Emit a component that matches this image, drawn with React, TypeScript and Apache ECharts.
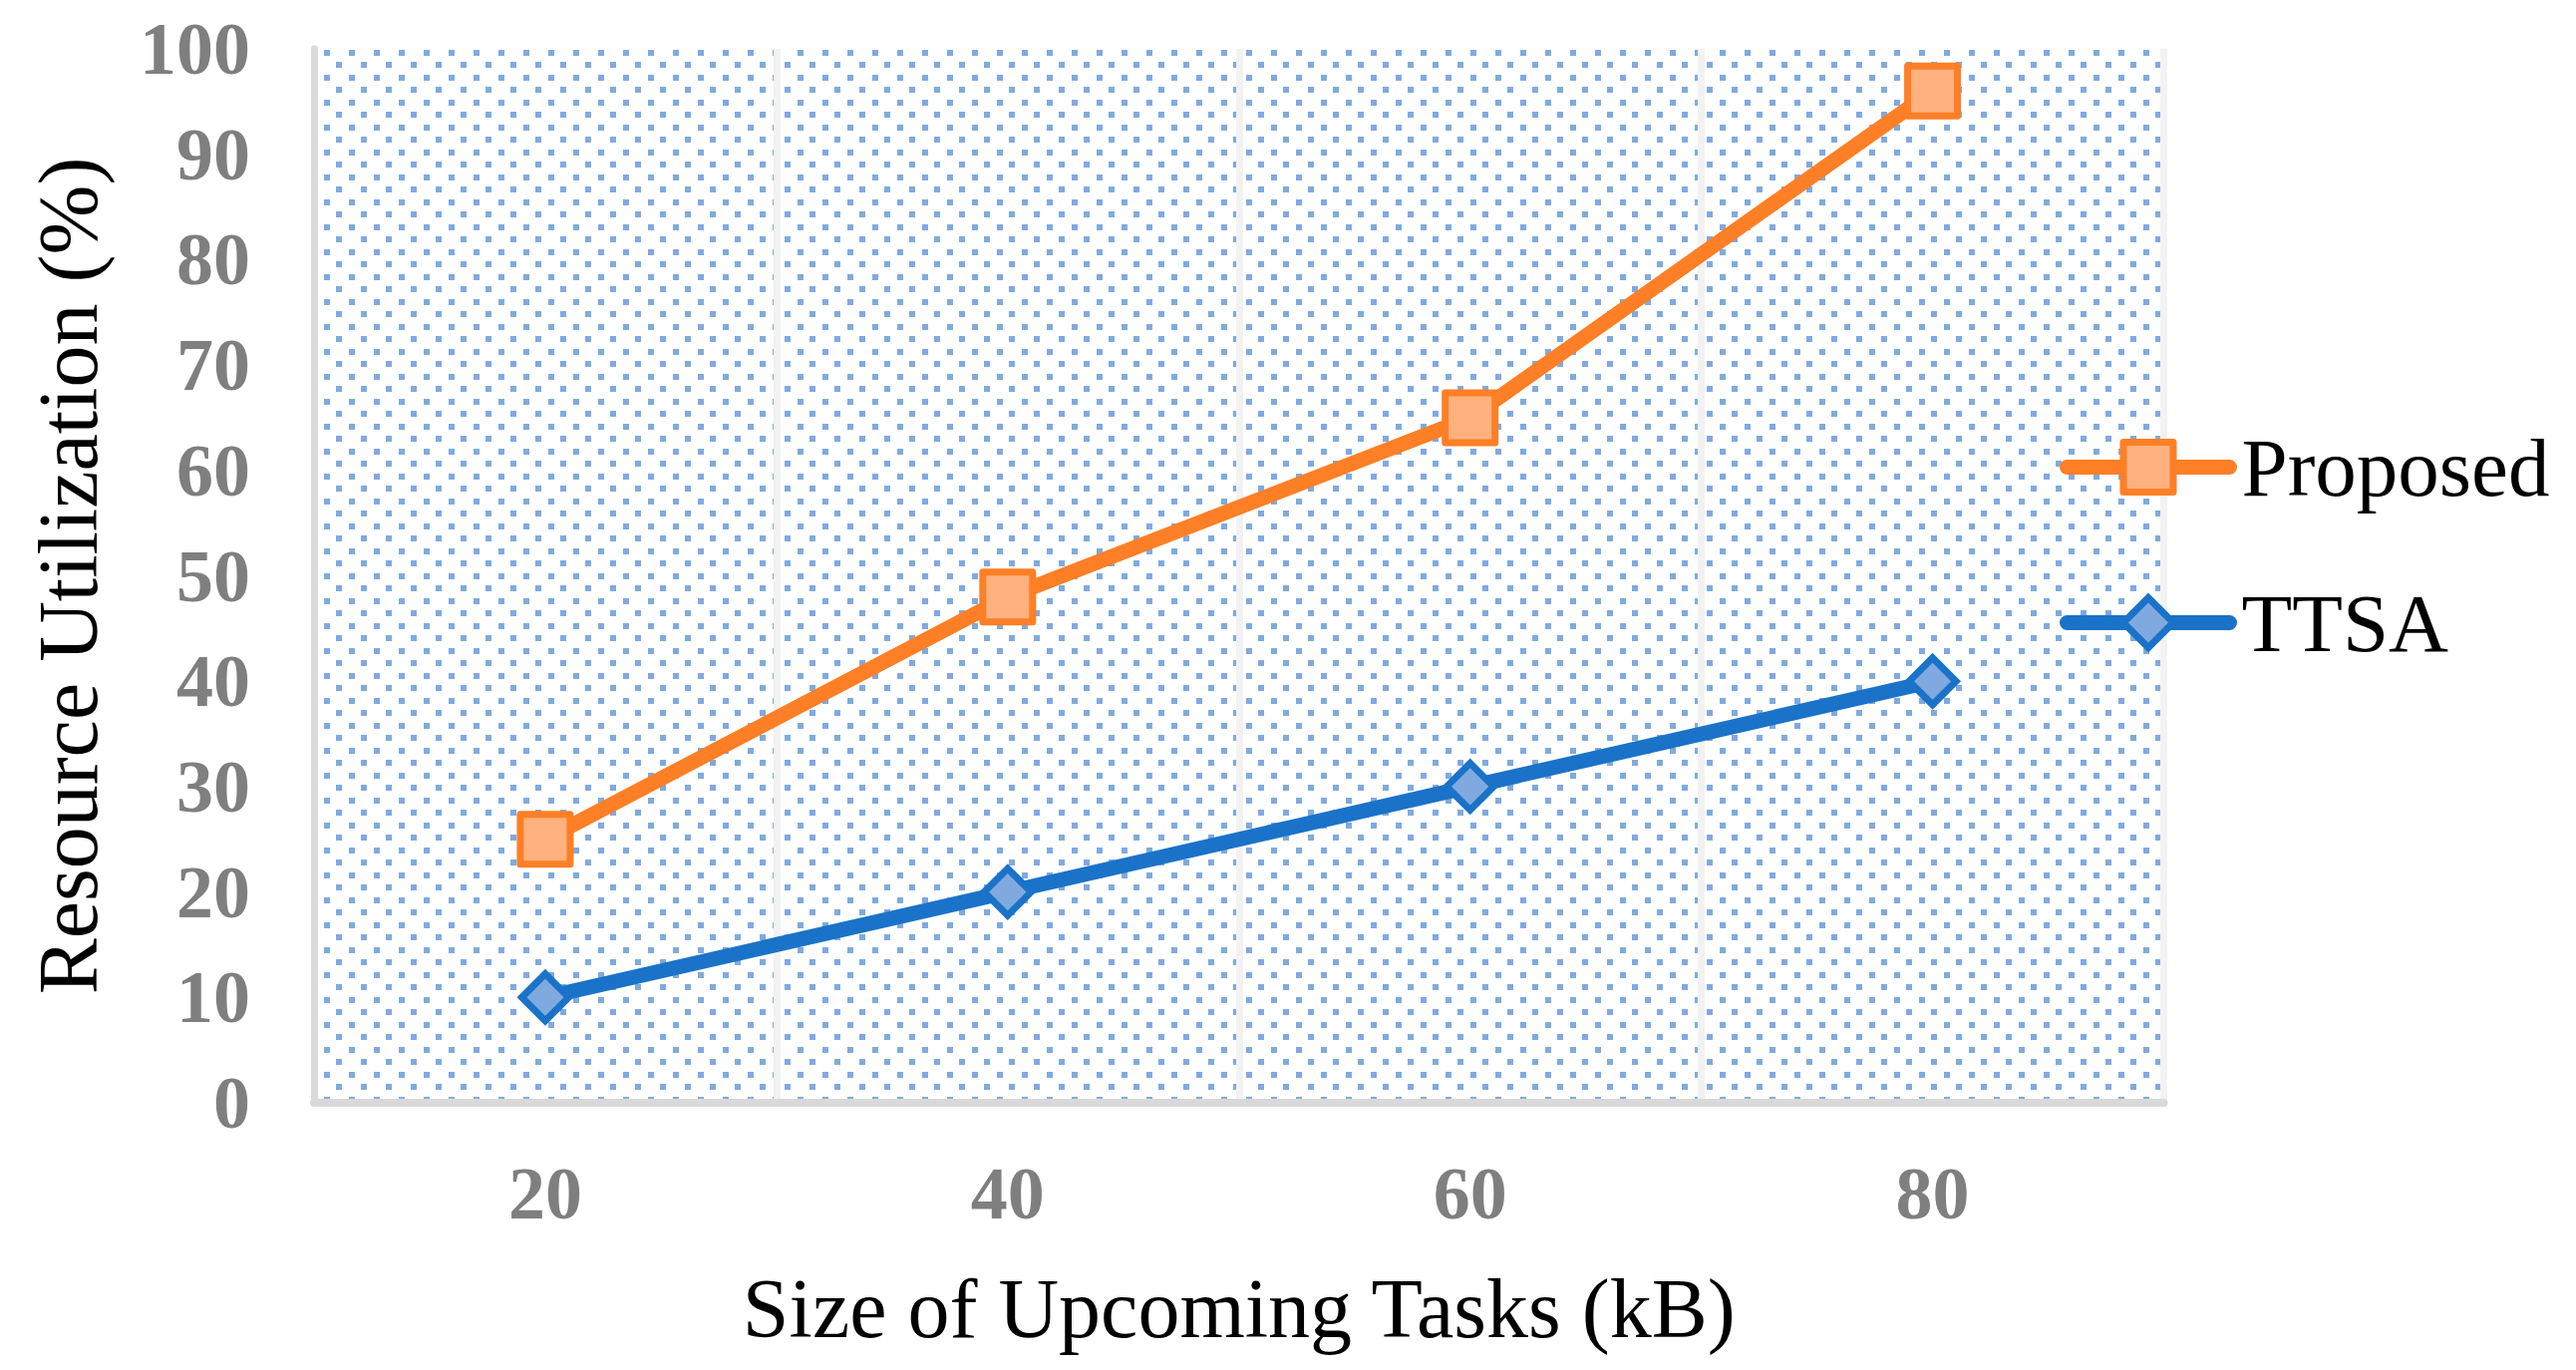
import React, { useEffect, useRef } from "react";
import * as echarts from "echarts";

// ---- data ----
const categories: string[] = ["20", "40", "60", "80"];
const proposedValues: number[] = [25, 48, 65, 96];
const ttsaValues: number[] = [10, 20, 30, 40];
const seriesNames: string[] = ["Proposed", "TTSA"];
const yMin = 0;
const yMax = 100;
const yInterval = 10;

const xTitle = "Size of Upcoming Tasks (kB)";
const yTitle = "Resource Utilization (%)";

const FONT = "'Liberation Serif', 'Times New Roman', serif";

function makeDotPattern(): string {
  const c = document.createElement("canvas");
  c.width = 25;
  c.height = 25;
  const ctx = c.getContext("2d");
  if (ctx) {
    ctx.fillStyle = "#80aadf";
    ctx.fillRect(0, 0, 6, 6);
    ctx.fillRect(12, 12, 6, 6);
  }
  return c.toDataURL();
}

export default function App() {
  const ref = useRef<HTMLDivElement | null>(null);

  useEffect(() => {
    document.body.style.margin = "0";
    if (!ref.current) return;
    const chart = echarts.init(ref.current, null, { renderer: "svg" });

    const pattern: any = {
      image: makeDotPattern(),
      imageWidth: 25,
      imageHeight: 25,
      repeat: "repeat",
      x: 21,
      y: 9,
    };

    const axisLabelStyle = {
      fontFamily: FONT,
      fontSize: 74,
      fontWeight: "bold" as const,
      color: "#7f7f7f",
    };

    const option: any = {
      animation: false,
      backgroundColor: "#ffffff",
      grid: {
        show: true,
        left: 315,
        right: 2584 - 2170.5,
        top: 49,
        bottom: 1374 - 1106,
        backgroundColor: pattern,
        borderWidth: 0,
      },
      legend: {
        orient: "vertical",
        left: 2061,
        top: 422,
        itemWidth: 163,
        itemHeight: 62.5,
        itemGap: 73,
        data: seriesNames,
        textStyle: {
          fontFamily: FONT,
          fontSize: 83,
          color: "#000000",
          padding: [0, 0, 0, 7],
        },
        lineStyle: { width: "inherit", cap: "round" },
        itemStyle: { borderWidth: "inherit" },
      },
      xAxis: {
        type: "category",
        data: categories,
        boundaryGap: true,
        axisLine: { show: true, lineStyle: { color: "#d9d9d9", width: 8 } },
        axisTick: { show: false },
        axisLabel: { ...axisLabelStyle, margin: 54 },
        splitLine: { show: true, lineStyle: { color: "#f2f2f2", width: 7 } },
        name: xTitle,
        nameLocation: "middle",
        nameGap: 164,
        nameTextStyle: { fontFamily: FONT, fontSize: 84, color: "#000000" },
      },
      yAxis: {
        type: "value",
        min: yMin,
        max: yMax,
        interval: yInterval,
        axisLine: { show: true, lineStyle: { color: "#d9d9d9", width: 7 } },
        axisTick: { show: false },
        axisLabel: { ...axisLabelStyle, margin: 64 },
        splitLine: { show: false },
        name: yTitle,
        nameLocation: "middle",
        nameGap: 205,
        nameTextStyle: { fontFamily: FONT, fontSize: 84, color: "#000000" },
      },
      series: [
        {
          name: seriesNames[0],
          type: "line",
          data: proposedValues,
          symbol: "rect",
          symbolSize: 50,
          lineStyle: { color: "#fe7f26", width: 15, cap: "round", join: "round" },
          itemStyle: {
            color: "#ffb27f",
            borderColor: "#fe7f26",
            borderWidth: 7,
            borderJoin: "round",
          },
        },
        {
          name: seriesNames[1],
          type: "line",
          data: ttsaValues,
          symbol: "diamond",
          symbolSize: 47,
          lineStyle: { color: "#1a73c8", width: 15, cap: "round", join: "round" },
          itemStyle: {
            color: "#80aadf",
            borderColor: "#1a73c8",
            borderWidth: 7,
            borderJoin: "miter",
          },
        },
      ],
    };

    chart.setOption(option);
    return () => {
      chart.dispose();
    };
  }, []);

  return <div ref={ref} style={{ width: 2584, height: 1374 }} />;
}
